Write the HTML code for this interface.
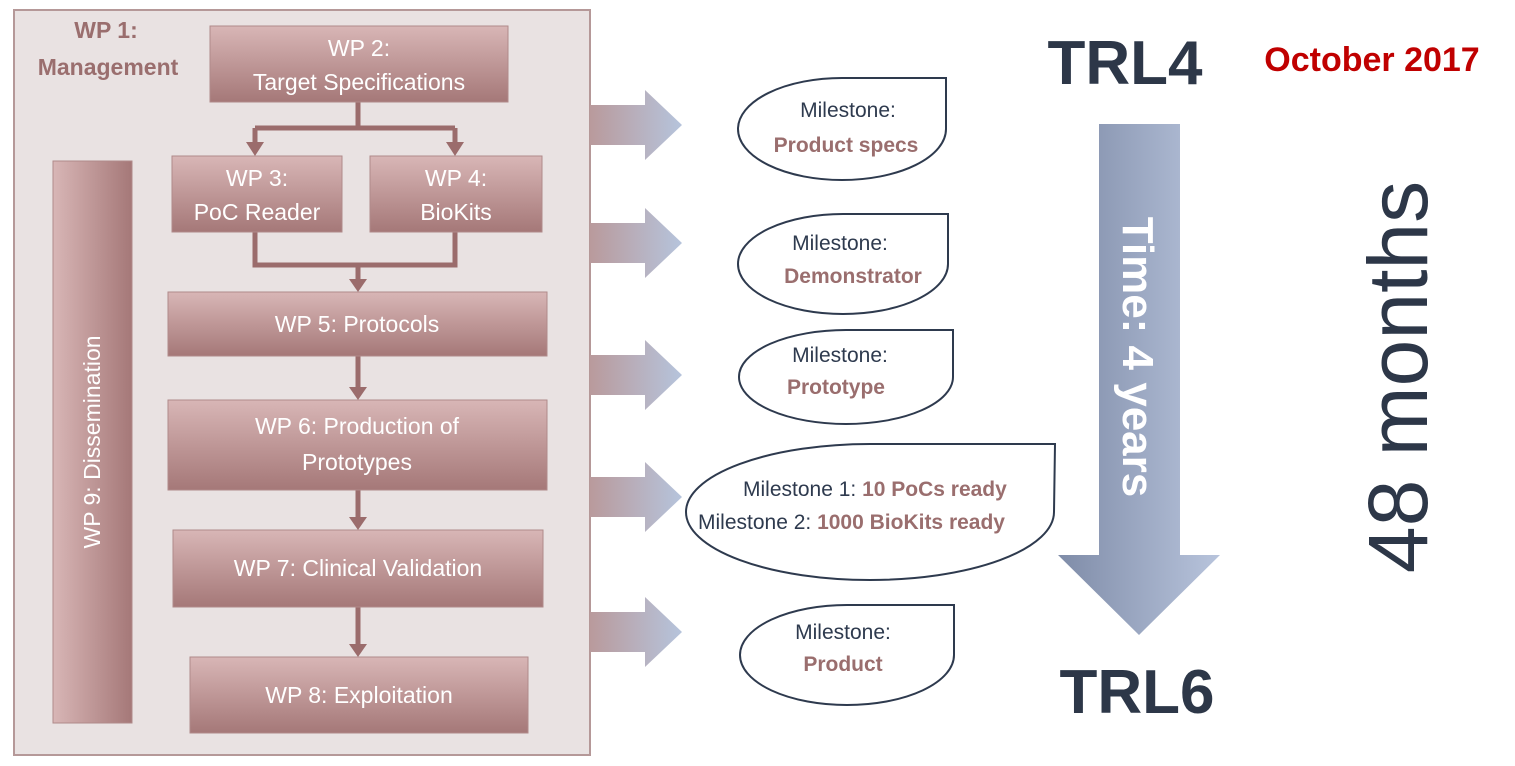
<!DOCTYPE html>
<html><head><meta charset="utf-8"><style>
html,body{margin:0;padding:0;background:#fff;}
svg{display:block;}
</style></head><body>
<svg width="1515" height="766" viewBox="0 0 1515 766" xmlns="http://www.w3.org/2000/svg" font-family="Liberation Sans, sans-serif">
<defs>
<linearGradient id="bx" x1="0" y1="0" x2="0" y2="1"><stop offset="0" stop-color="#d8b6b6"/><stop offset="1" stop-color="#a57878"/></linearGradient>
<linearGradient id="vx" x1="0" y1="0" x2="1" y2="0"><stop offset="0" stop-color="#d8b6b6"/><stop offset="1" stop-color="#a57878"/></linearGradient>
<linearGradient id="ar" x1="0" y1="0" x2="1" y2="0"><stop offset="0" stop-color="#b99a9c"/><stop offset="1" stop-color="#b6c4dc"/></linearGradient>
<linearGradient id="big" x1="0" y1="0" x2="1" y2="0"><stop offset="0" stop-color="#7f8ca8"/><stop offset="1" stop-color="#b8c4dc"/></linearGradient>
</defs>
<rect x="14" y="10" width="576" height="745" fill="#e9e2e2" stroke="#b59898" stroke-width="2"/>
<text x="106" y="38" font-size="23" font-weight="bold" fill="#9a6e6e" text-anchor="middle">WP 1:</text>
<text x="108" y="75" font-size="23" font-weight="bold" fill="#9a6e6e" text-anchor="middle">Management</text>
<g stroke="#9b6c6c" stroke-width="5" fill="none">
<path d="M358 102 V128 M255 128 H455 M255 128 V145 M455 128 V145"/>
<path d="M255 232 V265 H455 V232 M358 265 V282"/>
<path d="M358 356 V390 M358 490 V520 M358 607 V647"/>
</g>
<g fill="#9b6c6c">
<path d="M246 142 L264 142 L255 156Z"/><path d="M446 142 L464 142 L455 156Z"/>
<path d="M349 279 L367 279 L358 292Z"/><path d="M349 387 L367 387 L358 400Z"/>
<path d="M349 517 L367 517 L358 530Z"/><path d="M349 644 L367 644 L358 657Z"/>
</g>
<g stroke="#b08a8a" stroke-width="1">
<rect x="210" y="26" width="298" height="76" fill="url(#bx)"/>
<rect x="172" y="156" width="170" height="76" fill="url(#bx)"/>
<rect x="370" y="156" width="172" height="76" fill="url(#bx)"/>
<rect x="168" y="292" width="379" height="64" fill="url(#bx)"/>
<rect x="168" y="400" width="379" height="90" fill="url(#bx)"/>
<rect x="173" y="530" width="370" height="77" fill="url(#bx)"/>
<rect x="190" y="657" width="338" height="76" fill="url(#bx)"/>
<rect x="53" y="161" width="79" height="562" fill="url(#vx)"/>
</g>
<g fill="#fff" font-size="23" text-anchor="middle">
<text x="359" y="56">WP 2:</text><text x="359" y="90">Target Specifications</text>
<text x="257" y="186">WP 3:</text><text x="257" y="220">PoC Reader</text>
<text x="456" y="186">WP 4:</text><text x="456" y="220">BioKits</text>
<text x="357" y="332">WP 5: Protocols</text>
<text x="357" y="434">WP 6: Production of</text><text x="357" y="470">Prototypes</text>
<text x="358" y="576">WP 7: Clinical Validation</text>
<text x="359" y="703">WP 8: Exploitation</text>
<text transform="translate(100,442) rotate(-90)">WP 9: Dissemination</text>
</g>
<g fill="url(#ar)">
<path d="M590 105 H645 V90 L682 125 L645 160 V145 H590Z"/>
<path d="M590 223 H645 V208 L682 243 L645 278 V263 H590Z"/>
<path d="M590 355 H645 V340 L682 375 L645 410 V395 H590Z"/>
<path d="M590 477 H645 V462 L682 497 L645 532 V517 H590Z"/>
<path d="M590 612 H645 V597 L682 632 L645 667 V652 H590Z"/>
</g>
<g fill="#fff" stroke="#2e3a4e" stroke-width="2">
<path d="M842 78 A104 51 0 1 0 946 129 L946 78 Z"/>
<path d="M843 214 A105 50 0 1 0 948 264 L948 214 Z"/>
<path d="M846 330 A107 47 0 1 0 953 377 L953 330 Z"/>
<path d="M870 444 A184 68 0 1 0 1054 512 L1055 444 Z"/>
<path d="M847 605 A107 50 0 1 0 954 655 L954 605 Z"/>
</g>
<g font-size="21" text-anchor="middle">
<text x="848" y="117" fill="#2e3a4e">Milestone:</text>
<text x="846" y="152" fill="#9a6e6e" font-weight="bold">Product specs</text>
<text x="840" y="250" fill="#2e3a4e">Milestone:</text>
<text x="853" y="283" fill="#9a6e6e" font-weight="bold">Demonstrator</text>
<text x="840" y="362" fill="#2e3a4e">Milestone:</text>
<text x="836" y="394" fill="#9a6e6e" font-weight="bold">Prototype</text>
<text x="843" y="639" fill="#2e3a4e">Milestone:</text>
<text x="843" y="671" fill="#9a6e6e" font-weight="bold">Product</text>
</g>
<g font-size="21">
<text x="743" y="496" fill="#2e3a4e">Milestone 1: <tspan fill="#9a6e6e" font-weight="bold">10 PoCs ready</tspan></text>
<text x="698" y="529" fill="#2e3a4e">Milestone 2: <tspan fill="#9a6e6e" font-weight="bold">1000 BioKits ready</tspan></text>
</g>
<path d="M1099 124 H1180 V555 H1220 L1139 635 L1058 555 H1099Z" fill="url(#big)"/>
<text transform="translate(1123,357) rotate(90)" font-size="44" font-weight="bold" fill="#fff" text-anchor="middle">Time: 4 years</text>
<text x="1125" y="84" font-size="62" font-weight="bold" fill="#2d3748" text-anchor="middle">TRL4</text>
<text x="1137" y="713" font-size="62" font-weight="bold" fill="#2d3748" text-anchor="middle">TRL6</text>
<text x="1372" y="71" font-size="34" font-weight="bold" fill="#c00000" text-anchor="middle">October 2017</text>
<text transform="translate(1427,377) rotate(-90)" font-size="84" fill="#2d3748" text-anchor="middle">48 months</text>
</svg>
</body></html>
